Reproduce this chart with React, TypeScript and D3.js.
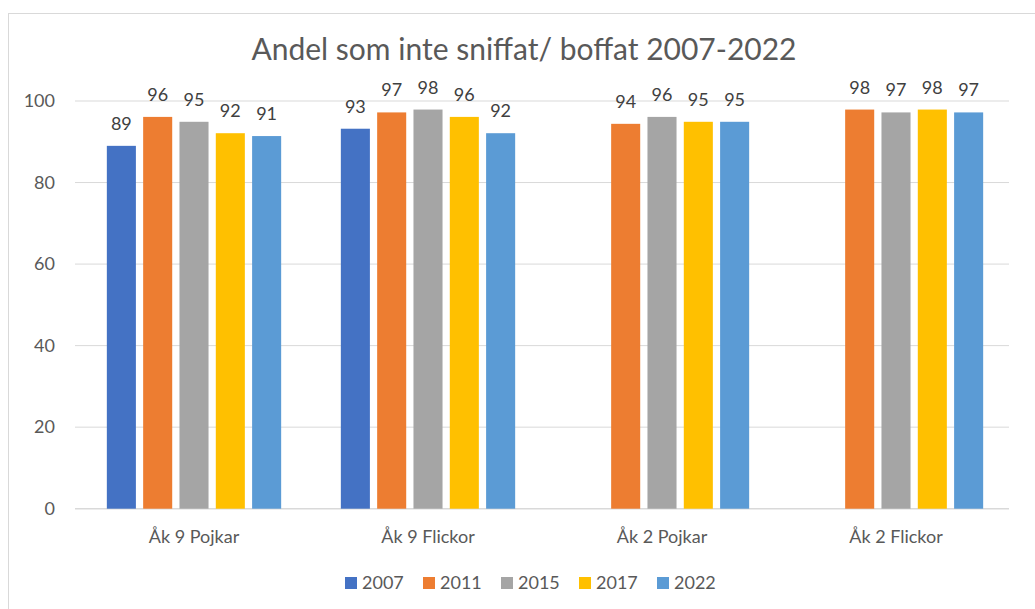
import React from "react";
import * as d3 from "d3";

const categories = ["Åk 9 Pojkar", "Åk 9 Flickor", "Åk 2 Pojkar", "Åk 2 Flickor"];
const years = ["2007", "2011", "2015", "2017", "2022"];
const s2007 = [89.0, 93.2, null, null];
const s2011 = [96.1, 97.2, 94.4, 97.9];
const s2015 = [94.9, 97.9, 96.1, 97.2];
const s2017 = [92.1, 96.1, 94.9, 97.9];
const s2022 = [91.4, 92.1, 94.9, 97.2];
const yTicks = [0, 20, 40, 60, 80, 100];
const colors = ["#4472C4", "#ED7D31", "#A5A5A5", "#FFC000", "#5B9BD5"];
const title = "Andel som inte sniffat/ boffat 2007-2022";

const series = [s2007, s2011, s2015, s2017, s2022];

export default function App() {
  const W = 1035, H = 609;
  const font = "Lato, 'Open Sans', sans-serif";
  const txt = "#595959";
  const y = d3.scaleLinear().domain([0, 100]).range([508.7, 101]);
  const x0 = d3.scaleBand().domain(categories).range([77, 1013]).paddingInner(0.255).paddingOuter(0.1275);
  const x1 = d3.scaleBand().domain(years).range([0, x0.bandwidth()]).paddingInner(0.2);
  const gridX1 = 75, gridX2 = 1009;

  const legendStep = 78;
  const legendStart = 345;

  return (
    <svg width={W} height={H} style={{ position: "absolute", left: 0, top: 0 }}>
      <rect x={0} y={0} width={W} height={H} fill="#ffffff" />
      <rect x={8.5} y={13.5} width={1040} height={620} fill="#ffffff" stroke="#d9d9d9" strokeWidth={1} />
      <text x={524} y={60} textAnchor="middle" fontFamily={font} fontSize={30} fill={txt}>{title}</text>
      {yTicks.map((t) => (
        <g key={t}>
          <line x1={gridX1} x2={gridX2} y1={y(t)} y2={y(t)} stroke="#d9d9d9" strokeWidth={t === 0 ? 1.5 : 1} />
          <text x={55} y={y(t)} dy="0.35em" textAnchor="end" fontFamily={font} fontSize={18} fill={txt}>{t}</text>
        </g>
      ))}
      {categories.map((c, ci) => (
        <g key={c} transform={`translate(${x0(c)},0)`}>
          {years.map((yr, si) => {
            const v = series[si][ci];
            if (v == null) return null;
            const bx = x1(yr)!;
            return (
              <g key={yr}>
                <rect x={bx} y={y(v)} width={x1.bandwidth()} height={y(0) - y(v)} fill={colors[si]} />
                <text x={bx + x1.bandwidth() / 2} y={y(v) - 16} textAnchor="middle" fontFamily={font} fontSize={18} fill="#404040">{Math.round(v)}</text>
              </g>
            );
          })}
          <text x={x0.bandwidth() / 2} y={537} dy="0.35em" textAnchor="middle" fontFamily={font} fontSize={18} fill={txt}>{c}</text>
        </g>
      ))}
      {years.map((yr, i) => (
        <g key={yr} transform={`translate(${legendStart + i * legendStep},0)`}>
          <rect x={0} y={577} width={12} height={12} fill={colors[i]} />
          <text x={17} y={583} dy="0.35em" fontFamily={font} fontSize={18} fill={txt}>{yr}</text>
        </g>
      ))}
    </svg>
  );
}
